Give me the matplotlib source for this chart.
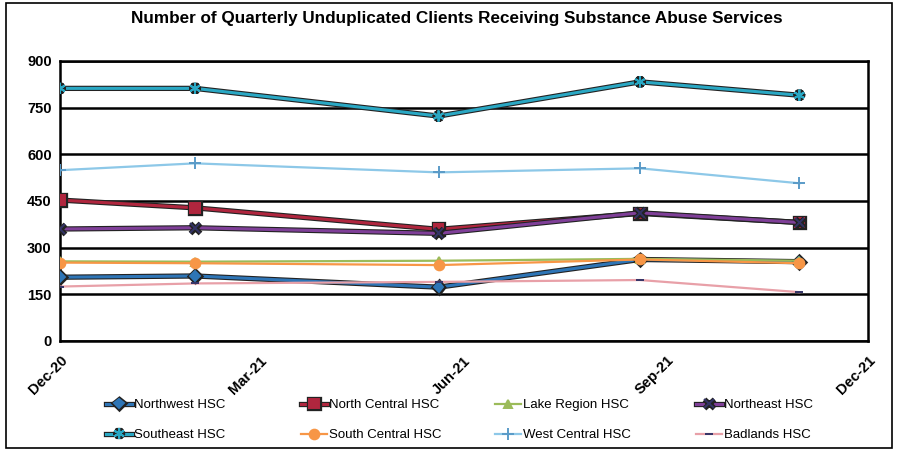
import numpy as np
import pandas as pd
import matplotlib
matplotlib.use('Agg')
import matplotlib.pyplot as plt
import matplotlib.dates as mdates
import matplotlib.patheffects as pe
from matplotlib.patches import Rectangle

plt.rcParams['font.family'] = ['Liberation Sans Narrow', 'Liberation Sans', 'DejaVu Sans']

# data
dates = pd.to_datetime(['2020-12-01', '2021-01-31', '2021-05-21', '2021-08-20', '2021-10-31'])
northwest = [205, 209, 173, 262, 255]
north_central = [453, 428, 359, 410, 381]
lake_region = [256, 255, 258, 264, 258]
northeast = [360, 364, 346, 412, 381]
southeast = [812, 812, 723, 833, 790]
south_central = [252, 250, 244, 262, 250]
west_central = [549, 571, 542, 555, 507]
badlands = [175, 185, 190, 196, 157]

series = [
    ('Northwest HSC', northwest, '#2E75B6', 'D', 5),
    ('North Central HSC', north_central, '#B0263E', 's', 7),
    ('Lake Region HSC', lake_region, '#9BBB59', '^', 6),
    ('Northeast HSC', northeast, '#7F3F98', 'x', 7),
    ('Southeast HSC', southeast, '#2AA8C4', (6, 2, 0), 8),
    ('South Central HSC', south_central, '#F79646', 'o', 7),
    ('West Central HSC', west_central, '#8DC8E8', '+', 8),
    ('Badlands HSC', badlands, '#E8A0A8', '_', 6),
]
dark = {'Northwest HSC', 'North Central HSC', 'Northeast HSC', 'Southeast HSC'}

fig = plt.figure(figsize=(8.98, 4.51), dpi=100)
ax = fig.add_axes([60 / 898, 1 - 341 / 451, 808 / 898, 280 / 451])

handles = []
for name, vals, col, mk, ms in series:
    lw = 2.2 if name in dark else 1.6
    eff = [pe.Stroke(linewidth=lw + 1.6, foreground='#222222'), pe.Normal()] if name in dark else None
    if mk in ('x', '_'):
        mec = '#333366'
    elif mk == '+':
        mec = '#5A9BC8'
    else:
        mec = col
    h, = ax.plot(dates, vals, color=col, lw=lw, marker=mk, ms=ms, mec=mec,
                 mew=1.4, label=name, path_effects=eff, zorder=3)
    handles.append(h)

ax.set_ylim(0, 900)
ax.set_yticks(range(0, 901, 150))
ax.set_xlim(pd.Timestamp('2020-12-01'), pd.Timestamp('2021-12-01'))
ax.xaxis.set_major_locator(mdates.MonthLocator(bymonth=[3, 6, 9, 12]))
ax.xaxis.set_major_formatter(mdates.DateFormatter('%b-%y'))
ax.grid(axis='y', color='black', lw=1.8, zorder=1)
ax.tick_params(length=0, labelsize=10.5, pad=6)
ax.tick_params(axis='x', pad=9)
for lab in ax.get_xticklabels():
    lab.set_rotation(45)
    lab.set_ha('right')
    lab.set_rotation_mode('anchor')
    lab.set_fontweight('bold')
for lab in ax.get_yticklabels():
    lab.set_fontweight('bold')
for s in ax.spines.values():
    s.set_linewidth(1.8)

fig.suptitle('Number of Quarterly Unduplicated Clients Receiving Substance Abuse Services',
             x=0.509, y=0.975, fontsize=12.3, fontweight='bold', family=['Liberation Sans', 'DejaVu Sans'])

# legend: 2 rows x 4 columns, one small legend per entry
col_x = [106, 301, 495, 696]
row_y = [405, 435]
for i, h in enumerate(handles):
    r, c = divmod(i, 4)
    fig.legend(handles=[h], labels=[h.get_label()], loc='center left',
               bbox_to_anchor=(col_x[c] / 898, 1 - row_y[r] / 451), frameon=False,
               fontsize=9.5, handlelength=2.0, handletextpad=0.1, borderpad=0, borderaxespad=0)

fig.patches.append(Rectangle((6 / 898, 3 / 451), 886 / 898, 445 / 451, transform=fig.transFigure,
                             fill=False, edgecolor='black', lw=1.2))

fig.savefig('out.png', dpi=100)
